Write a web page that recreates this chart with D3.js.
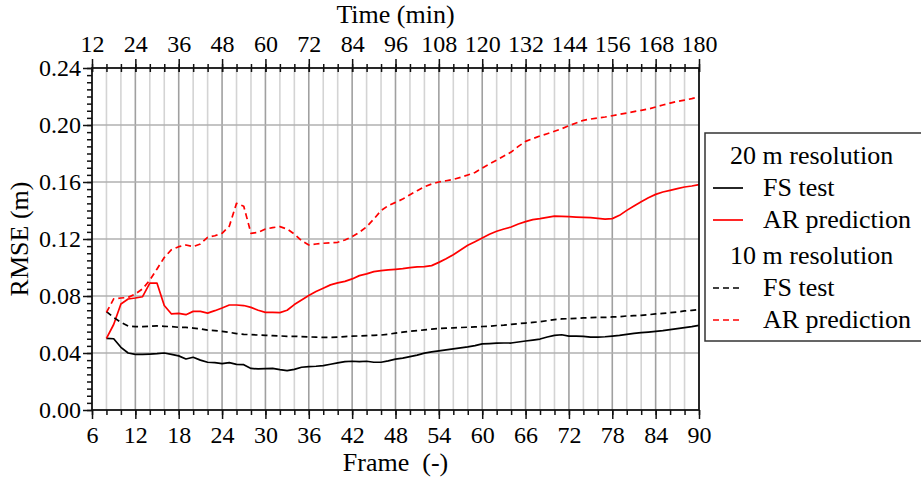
<!DOCTYPE html>
<html>
<head>
<meta charset="utf-8">
<script src="https://d3js.org/d3.v7.min.js"></script>
<style>
  body { margin: 0; background: #fff; }
  svg text { font-family: "Liberation Serif", "Times New Roman", Times, serif; fill: #000; }
</style>
</head>
<body>
<svg id="chart" width="921" height="479"></svg>
<script>
// Frame index (x) for every sample
var frames = [8,9,10,11,12,13,14,15,16,17,
    18,19,20,21,22,23,24,25,26,27,
    28,29,30,31,32,33,34,35,36,37,
    38,39,40,41,42,43,44,45,46,47,
    48,49,50,51,52,53,54,55,56,57,
    58,59,60,61,62,63,64,65,66,67,
    68,69,70,71,72,73,74,75,76,77,
    78,79,80,81,82,83,84,85,86,87,
    88,89,90];

// 20 m resolution, FS test
var fs20 = [0.0503,0.0500,0.0440,0.0400,0.0390,0.0390,0.0392,0.0395,0.0400,0.0390,
    0.0380,0.0358,0.0370,0.0350,0.0335,0.0332,0.0325,0.0332,0.0320,0.0318,
    0.0292,0.0288,0.0290,0.0292,0.0283,0.0276,0.0285,0.0300,0.0305,0.0307,
    0.0312,0.0321,0.0331,0.0340,0.0342,0.0340,0.0342,0.0335,0.0335,0.0345,
    0.0357,0.0364,0.0375,0.0385,0.0399,0.0408,0.0415,0.0422,0.0429,0.0436,
    0.0443,0.0452,0.0464,0.0466,0.0469,0.0470,0.0470,0.0477,0.0484,0.0491,
    0.0498,0.0512,0.0524,0.0528,0.0519,0.0519,0.0517,0.0512,0.0512,0.0514,
    0.0519,0.0524,0.0531,0.0538,0.0543,0.0547,0.0552,0.0557,0.0564,0.0571,
    0.0578,0.0585,0.0594];

// 20 m resolution, AR prediction
var ar20 = [0.0503,0.0600,0.0744,0.0779,0.0786,0.0795,0.0890,0.0890,0.0733,0.0674,
    0.0678,0.0669,0.0692,0.0692,0.0680,0.0697,0.0716,0.0737,0.0737,0.0733,
    0.0720,0.0700,0.0685,0.0685,0.0683,0.0700,0.0740,0.0772,0.0803,0.0831,
    0.0854,0.0878,0.0892,0.0903,0.0920,0.0943,0.0955,0.0971,0.0978,0.0983,
    0.0987,0.0992,0.0999,0.1004,0.1006,0.1013,0.1036,0.1062,0.1090,0.1123,
    0.1156,0.1181,0.1207,0.1233,0.1254,0.1270,0.1284,0.1305,0.1322,0.1336,
    0.1343,0.1352,0.1361,0.1359,0.1357,0.1354,0.1352,0.1350,0.1345,0.1340,
    0.1343,0.1366,0.1401,0.1432,0.1462,0.1490,0.1513,0.1530,0.1541,0.1553,
    0.1565,0.1572,0.1582];

// 10 m resolution, FS test
var fs10 = [0.0690,0.0650,0.0615,0.0590,0.0585,0.0585,0.0587,0.0590,0.0587,0.0585,
    0.0580,0.0580,0.0575,0.0570,0.0560,0.0557,0.0552,0.0545,0.0536,0.0531,
    0.0529,0.0526,0.0524,0.0522,0.0520,0.0517,0.0517,0.0515,0.0513,0.0511,
    0.0509,0.0509,0.0511,0.0515,0.0518,0.0520,0.0522,0.0524,0.0526,0.0532,
    0.0539,0.0546,0.0553,0.0557,0.0562,0.0567,0.0572,0.0574,0.0576,0.0579,
    0.0581,0.0583,0.0586,0.0588,0.0593,0.0595,0.0601,0.0606,0.0610,0.0615,
    0.0620,0.0627,0.0634,0.0639,0.0641,0.0643,0.0646,0.0648,0.0650,0.0650,
    0.0653,0.0655,0.0660,0.0662,0.0664,0.0669,0.0674,0.0678,0.0683,0.0688,
    0.0695,0.0699,0.0704];

// 10 m resolution, AR prediction
var ar10 = [0.0685,0.0780,0.0786,0.0790,0.0814,0.0850,0.0912,0.0990,0.1070,0.1125,
    0.1146,0.1158,0.1146,0.1165,0.1212,0.1223,0.1240,0.1290,0.1450,0.1430,
    0.1240,0.1247,0.1270,0.1280,0.1287,0.1270,0.1235,0.1188,0.1158,0.1165,
    0.1170,0.1174,0.1177,0.1193,0.1216,0.1247,0.1286,0.1340,0.1399,0.1434,
    0.1457,0.1480,0.1511,0.1539,0.1567,0.1586,0.1600,0.1609,0.1618,0.1632,
    0.1649,0.1667,0.1698,0.1726,0.1754,0.1782,0.1810,0.1850,0.1885,0.1904,
    0.1923,0.1939,0.1956,0.1974,0.1995,0.2014,0.2033,0.2042,0.2049,0.2056,
    0.2065,0.2075,0.2084,0.2094,0.2103,0.2112,0.2126,0.2140,0.2154,0.2166,
    0.2175,0.2185,0.2197];

var frameTicks = [6,12,18,24,30,36,42,48,54,60,66,72,78,84,90];
var timeTicks = [12,24,36,48,60,72,84,96,108,120,132,144,156,168,180];
var rmseTicks = [0.00,0.04,0.08,0.12,0.16,0.20,0.24];

(function() {
    var FONT = '"Liberation Serif", "Times New Roman", Times, serif';

    var series = [
        {name: 'FS test', values: fs20, color: '#000', dash: null},
        {name: 'AR prediction', values: ar20, color: '#f00', dash: null},
        {name: 'FS test', values: fs10, color: '#000', dash: '6,4'},
        {name: 'AR prediction', values: ar10, color: '#f00', dash: '6,4'}
    ];

    var legendGroups = [
        {title: '20 m resolution', items: [series[0], series[1]]},
        {title: '10 m resolution', items: [series[2], series[3]]}
    ];

    var svg = d3.select('#chart');
    var pl = 92, pr = 699, pt = 68, pb = 410;

    var x = d3.scaleLinear().domain([6, 90]).range([pl, pr]);
    var xt = d3.scaleLinear().domain([12, 180]).range([pl, pr]);
    var y = d3.scaleLinear().domain([0, 0.24]).range([pb, pt]);

    // Grid: minor vertical (every 2 frames), major vertical, horizontal
    var grid = svg.append('g');
    var minorFrames = d3.range(8, 90, 2).filter((f) => f % 6 !== 0);
    grid.selectAll('line.vminor').data(minorFrames).enter().append('line')
        .attr('x1', (d) => x(d)).attr('x2', (d) => x(d))
        .attr('y1', pt).attr('y2', pb)
        .attr('stroke', '#d4d4d4').attr('stroke-width', 1.6);
    grid.selectAll('line.vmajor').data(frameTicks.slice(1, -1)).enter().append('line')
        .attr('x1', (d) => x(d)).attr('x2', (d) => x(d))
        .attr('y1', pt).attr('y2', pb)
        .attr('stroke', '#a0a0a0').attr('stroke-width', 1.6);
    grid.selectAll('line.h').data(rmseTicks.slice(1, -1)).enter().append('line')
        .attr('x1', pl).attr('x2', pr)
        .attr('y1', (d) => y(d)).attr('y2', (d) => y(d))
        .attr('stroke', '#b0b0b0').attr('stroke-width', 1.6);

    // Lines
    var line = d3.line().x((d, i) => x(frames[i])).y((d) => y(d));
    svg.append('g').selectAll('path').data(series).enter().append('path')
        .attr('d', (d) => line(d.values))
        .attr('fill', 'none')
        .attr('stroke', (d) => d.color)
        .attr('stroke-width', 1.7)
        .attr('stroke-dasharray', (d) => d.dash)
        .attr('stroke-linejoin', 'round');

    // Axes
    function styleAxis(g) {
        g.select('.domain').remove();
        g.selectAll('line').attr('stroke', '#111').attr('stroke-width', 1.5);
        g.selectAll('text').attr('font-family', FONT).attr('font-size', 24).attr('fill', '#000');
    }

    // minor ticks first, then major with labels
    svg.append('g').attr('transform', 'translate(0,' + pb + ')')
        .call(d3.axisBottom(x).tickValues(d3.range(6, 91, 2)).tickSize(5).tickFormat(''))
        .call(styleAxis);
    svg.append('g').attr('transform', 'translate(0,' + pb + ')')
        .call(d3.axisBottom(x).tickValues(frameTicks).tickSize(9).tickPadding(7).tickFormat(d3.format('d')))
        .call(styleAxis);

    svg.append('g').attr('transform', 'translate(' + pl + ',0)')
        .call(d3.axisLeft(y).tickValues(d3.range(0, 0.2401, 0.005)).tickSize(5).tickFormat(''))
        .call(styleAxis);
    svg.append('g').attr('transform', 'translate(' + pl + ',0)')
        .call(d3.axisLeft(y).tickValues(rmseTicks).tickSize(9).tickPadding(2).tickFormat(d3.format('.2f')))
        .call(styleAxis);

    var topMinor = svg.append('g').attr('transform', 'translate(0,' + pt + ')')
        .call(d3.axisTop(xt).tickValues(d3.range(12, 181, 4)).tickSize(4).tickFormat(''))
        .call(styleAxis);
    topMinor.selectAll('line').attr('y1', 4);
    var topMajor = svg.append('g').attr('transform', 'translate(0,' + pt + ')')
        .call(d3.axisTop(xt).tickValues(timeTicks).tickSize(9).tickPadding(7).tickFormat(d3.format('d')))
        .call(styleAxis);
    topMajor.selectAll('line').attr('y1', 4);

    // Frame
    svg.append('rect').attr('x', pl).attr('y', pt)
        .attr('width', pr - pl).attr('height', pb - pt)
        .attr('fill', 'none').attr('stroke', '#111').attr('stroke-width', 1.8);

    // Axis titles
    svg.append('text').attr('x', (pl + pr) / 2).attr('y', 23)
        .attr('text-anchor', 'middle').attr('font-family', FONT).attr('font-size', 26).text('Time (min)');
    svg.append('text').attr('x', (pl + pr) / 2).attr('y', 471)
        .attr('text-anchor', 'middle').attr('font-family', FONT).attr('font-size', 26)
        .text('Frame\u00a0 (-)');
    svg.append('text').attr('transform', 'translate(28,' + (pt + pb) / 2 + ') rotate(-90)')
        .attr('text-anchor', 'middle').attr('font-family', FONT).attr('font-size', 26).text('RMSE (m)');

    // Legend
    var legend = svg.append('g');
    legend.append('rect').attr('x', 705).attr('y', 133).attr('width', 240).attr('height', 208)
        .attr('fill', '#fff').attr('stroke', '#333').attr('stroke-width', 1.5);

    var rowY = 164;
    legendGroups.forEach((grp, gi) => {
        if (gi > 0)
            rowY += 4;
        legend.append('text').attr('x', 730).attr('y', rowY)
            .attr('font-family', FONT).attr('font-size', 26).text(grp.title);
        grp.items.forEach((s) => {
            rowY += 32;
            legend.append('line').attr('x1', 713).attr('x2', 743)
                .attr('y1', rowY - 8).attr('y2', rowY - 8)
                .attr('stroke', s.color).attr('stroke-width', 1.7)
                .attr('stroke-dasharray', s.dash);
            legend.append('text').attr('x', 763).attr('y', rowY)
                .attr('font-family', FONT).attr('font-size', 26).text(s.name);
        });
        rowY += 32;
    });
})();
</script>
</body>
</html>
